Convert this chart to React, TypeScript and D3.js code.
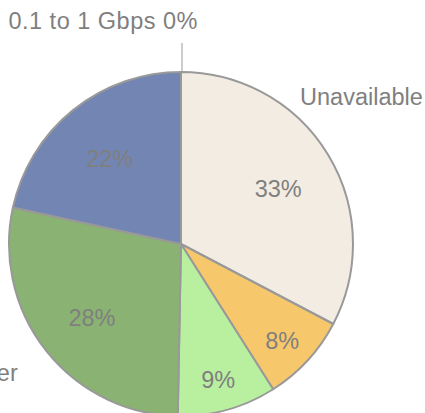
import React from "react";
import * as d3 from "d3";

const categories = ["Unavailable", "Under 10 Mbps", "10 to 25 Mbps", "25 Mbps or faster", "Over 25 Mbps but slower", "0.1 to 1 Gbps"];
const values = [32.7, 8.3, 9.3, 28.1, 21.6, 0.0];
const colors = ["#f3ece2", "#f7c76c", "#b9f09f", "#8ab273", "#7285b3", "#8ab0d8"];
const pctLabels = ["33%", "8%", "9%", "28%", "22%", "0%"];

const W = 425, H = 413;
const cx = 181, cy = 244, R = 172;

export default function App() {
  const pie = d3.pie<number>().sort(null).value((d) => d)(values);
  const arc = d3.arc<d3.PieArcDatum<number>>().innerRadius(0).outerRadius(R);
  const font = "Arial, 'Liberation Sans', sans-serif";
  const textColor = "#7f7f7f";
  const fs = 23.5;
  return (
    <svg width={W} height={H} style={{ position: "absolute", left: 0, top: 0 }} fontFamily={font}>
      <g transform={`translate(${cx},${cy})`}>
        {pie.map((p, i) => (
          <path key={i} d={arc(p) || ""} fill={colors[i]} stroke="#999999" strokeWidth={2} strokeLinejoin="round" />
        ))}
        {pie.map((p, i) => {
          if (values[i] < 1) return null;
          const mid = (p.startAngle + p.endAngle) / 2;
          const rr = R * (values[i] < 15 ? 0.8 : 0.66);
          const x = Math.sin(mid) * rr;
          const y = -Math.cos(mid) * rr;
          return (
            <text key={i} x={x} y={y} dy="0.5em" textAnchor="middle" fontSize={fs} fill={textColor}>
              {pctLabels[i]}
            </text>
          );
        })}
        {(() => {
          const p = pie[5];
          const a = p.startAngle;
          const x = Math.sin(a) * R;
          const y1 = -Math.cos(a) * R;
          return (
            <g>
              <line x1={x + 1} x2={x + 1} y1={y1} y2={y1 - 29} stroke="#999999" strokeWidth={1} />
              <text x={x + 17} y={y1 - 43} textAnchor="end" fontSize={fs} fill={textColor} letterSpacing="0.5">
                {`${categories[5]} ${pctLabels[5]}`}
              </text>
            </g>
          );
        })()}
        {(() => {
          const ang = (39 * Math.PI) / 180;
          const rr = R * 1.1;
          return (
            <text x={Math.sin(ang) * rr} y={-Math.cos(ang) * rr} dy="0.35em" textAnchor="start" fontSize={fs} fill={textColor}>
              {categories[0]}
            </text>
          );
        })()}
        {(() => {
          const p = pie[3];
          const mid = (p.startAngle + p.endAngle) / 2;
          const rr = R * 1.21;
          return (
            <text x={Math.sin(mid) * rr} y={-Math.cos(mid) * rr} dy="0.35em" textAnchor="end" fontSize={fs} fill={textColor}>
              {categories[3]}
            </text>
          );
        })()}
      </g>
    </svg>
  );
}
